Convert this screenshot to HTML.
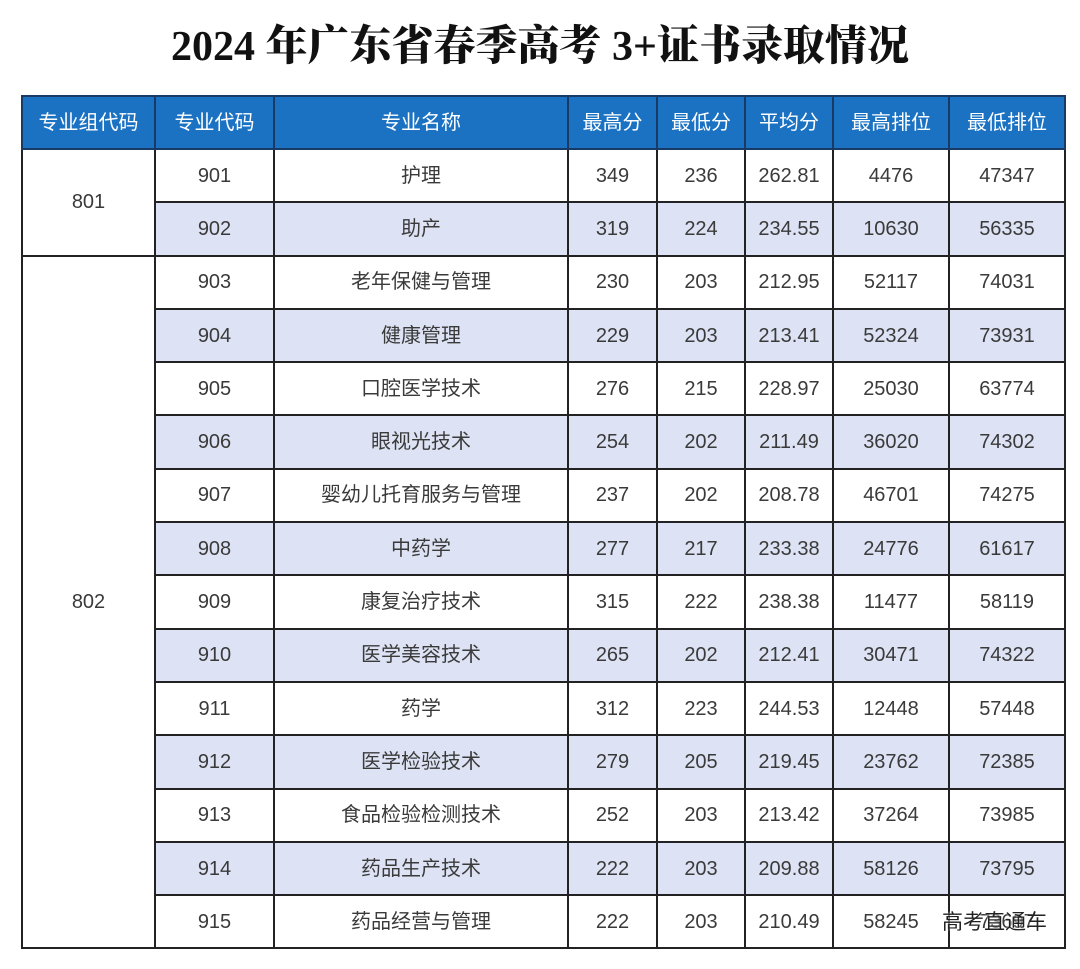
<!DOCTYPE html>
<html><head><meta charset="utf-8"><style>
body{margin:0;width:1080px;height:969px;background:#fff;position:relative;overflow:hidden;font-family:"Liberation Sans","Noto Sans CJK SC",sans-serif}
h1{position:absolute;top:18px;left:0;width:1080px;margin:0;text-align:center;font-family:"Liberation Serif","Noto Serif CJK SC",serif;font-weight:900;font-size:42px;line-height:58px;color:#111}
table{position:absolute;left:21px;top:95px;width:1043px;border-collapse:collapse;table-layout:fixed}
td,th{border:2px solid #222;text-align:center;font-size:20px;color:#3a3a3a;padding:0;font-weight:normal;line-height:24px}
th{background:#1b72c2;color:#fff;height:51px;border-color:#1a3a66}
td{height:51.3px}
tr.a td.s{background:#dde3f4}
.c{position:relative;top:0px}
.wm{position:absolute;left:942px;top:906px;font-size:21px;color:#222;text-shadow:0 0 2px #fff}
</style></head><body>
<h1>2024 年广东省春季高考 3+证书录取情况</h1>
<table>
<colgroup><col style="width:133px"><col style="width:119px"><col style="width:294px"><col style="width:89px"><col style="width:88px"><col style="width:88px"><col style="width:116px"><col style="width:116px"></colgroup>
<tr><th>专业组代码</th><th>专业代码</th><th>专业名称</th><th>最高分</th><th>最低分</th><th>平均分</th><th>最高排位</th><th>最低排位</th></tr>
<tr><td rowspan="2">801</td><td class="s">901</td><td class="s"><span class="c">护理</span></td><td class="s">349</td><td class="s">236</td><td class="s">262.81</td><td class="s">4476</td><td class="s">47347</td></tr>
<tr class="a"><td class="s">902</td><td class="s"><span class="c">助产</span></td><td class="s">319</td><td class="s">224</td><td class="s">234.55</td><td class="s">10630</td><td class="s">56335</td></tr>
<tr><td rowspan="13">802</td><td class="s">903</td><td class="s"><span class="c">老年保健与管理</span></td><td class="s">230</td><td class="s">203</td><td class="s">212.95</td><td class="s">52117</td><td class="s">74031</td></tr>
<tr class="a"><td class="s">904</td><td class="s"><span class="c">健康管理</span></td><td class="s">229</td><td class="s">203</td><td class="s">213.41</td><td class="s">52324</td><td class="s">73931</td></tr>
<tr><td class="s">905</td><td class="s"><span class="c">口腔医学技术</span></td><td class="s">276</td><td class="s">215</td><td class="s">228.97</td><td class="s">25030</td><td class="s">63774</td></tr>
<tr class="a"><td class="s">906</td><td class="s"><span class="c">眼视光技术</span></td><td class="s">254</td><td class="s">202</td><td class="s">211.49</td><td class="s">36020</td><td class="s">74302</td></tr>
<tr><td class="s">907</td><td class="s"><span class="c">婴幼儿托育服务与管理</span></td><td class="s">237</td><td class="s">202</td><td class="s">208.78</td><td class="s">46701</td><td class="s">74275</td></tr>
<tr class="a"><td class="s">908</td><td class="s"><span class="c">中药学</span></td><td class="s">277</td><td class="s">217</td><td class="s">233.38</td><td class="s">24776</td><td class="s">61617</td></tr>
<tr><td class="s">909</td><td class="s"><span class="c">康复治疗技术</span></td><td class="s">315</td><td class="s">222</td><td class="s">238.38</td><td class="s">11477</td><td class="s">58119</td></tr>
<tr class="a"><td class="s">910</td><td class="s"><span class="c">医学美容技术</span></td><td class="s">265</td><td class="s">202</td><td class="s">212.41</td><td class="s">30471</td><td class="s">74322</td></tr>
<tr><td class="s">911</td><td class="s"><span class="c">药学</span></td><td class="s">312</td><td class="s">223</td><td class="s">244.53</td><td class="s">12448</td><td class="s">57448</td></tr>
<tr class="a"><td class="s">912</td><td class="s"><span class="c">医学检验技术</span></td><td class="s">279</td><td class="s">205</td><td class="s">219.45</td><td class="s">23762</td><td class="s">72385</td></tr>
<tr><td class="s">913</td><td class="s"><span class="c">食品检验检测技术</span></td><td class="s">252</td><td class="s">203</td><td class="s">213.42</td><td class="s">37264</td><td class="s">73985</td></tr>
<tr class="a"><td class="s">914</td><td class="s"><span class="c">药品生产技术</span></td><td class="s">222</td><td class="s">203</td><td class="s">209.88</td><td class="s">58126</td><td class="s">73795</td></tr>
<tr><td class="s">915</td><td class="s"><span class="c">药品经营与管理</span></td><td class="s">222</td><td class="s">203</td><td class="s">210.49</td><td class="s">58245</td><td class="s">73697</td></tr>
</table>
<div class="wm">高考直通车</div>
</body></html>
